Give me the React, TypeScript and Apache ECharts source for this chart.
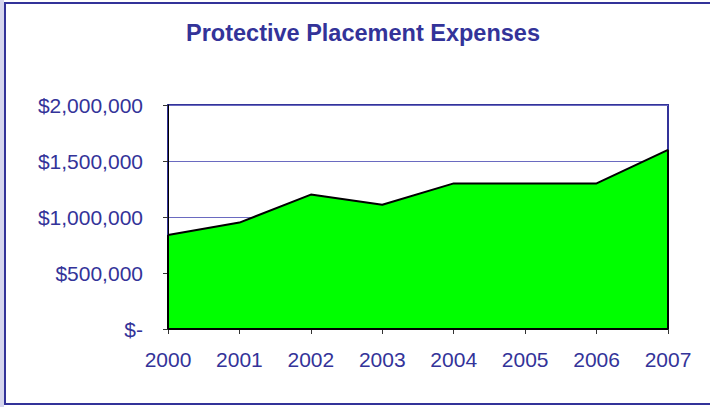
import React, { useEffect, useRef } from "react";
import * as echarts from "echarts";

const years = ["2000", "2001", "2002", "2003", "2004", "2005", "2006", "2007"];
const expenses = [840000, 950000, 1200000, 1110000, 1300000, 1300000, 1300000, 1600000];
const yTicks = [0, 500000, 1000000, 1500000, 2000000];
const titleText = "Protective Placement Expenses";

const NAVY = "#333399";
const FONT = "'Liberation Sans', Arial, sans-serif";

function fmtMoney(v: number): string {
  if (v === 0) return "$-";
  return "$" + v.toLocaleString("en-US");
}

export default function App() {
  const ref = useRef<HTMLDivElement>(null);
  useEffect(() => {
    if (!ref.current) return;
    const chart = echarts.init(ref.current, undefined, { renderer: "svg" });
    const last = years.length - 1;
    chart.setOption({
      animation: false,
      backgroundColor: "#ffffff",
      title: {
        text: titleText,
        left: 181,
        top: 16,
        textStyle: { color: NAVY, fontFamily: FONT, fontWeight: "bold", fontSize: 23.5 },
      },
      graphic: [
        { type: "rect", shape: { x: 0, y: 0, width: 4, height: 407 }, style: { fill: "#d6d6ee" }, z: 100 },
        {
          type: "rect",
          shape: { x: 5, y: 3, width: 720, height: 401 },
          style: { fill: "none", stroke: NAVY, lineWidth: 2 },
          z: 100,
        },
      ],
      grid: {
        left: 168,
        top: 105,
        right: 42,
        bottom: 78,
        show: true,
        borderColor: NAVY,
        borderWidth: 2,
        backgroundColor: "transparent",
      },
      xAxis: {
        type: "category",
        data: years,
        boundaryGap: false,
        axisLine: { show: true, lineStyle: { color: "#000000", width: 1 } },
        axisTick: { show: true, length: 5, inside: false, lineStyle: { color: "#333333" } },
        axisLabel: { color: NAVY, fontFamily: FONT, fontSize: 21, margin: 20 },
        splitLine: { show: false },
      },
      yAxis: {
        type: "value",
        min: yTicks[0],
        max: yTicks[yTicks.length - 1],
        interval: yTicks[1] - yTicks[0],
        axisLine: { show: true, lineStyle: { color: "#000000", width: 1 } },
        axisTick: { show: true, length: 5, inside: false, lineStyle: { color: "#333333" } },
        axisLabel: { color: NAVY, fontFamily: FONT, fontSize: 21, margin: 25, formatter: fmtMoney },
        splitLine: { show: true, lineStyle: { color: "#6a6ac0", width: 1 } },
      },
      series: [
        {
          type: "line",
          data: expenses,
          symbol: "none",
          lineStyle: { color: "#000000", width: 2 },
          areaStyle: { color: "#00ff00", opacity: 1 },
          markLine: {
            silent: true,
            symbol: "none",
            label: { show: false },
            lineStyle: { color: "#000000", width: 2, type: "solid" },
            data: [
              [{ coord: [years[0], 0] }, { coord: [years[last], 0] }],
              [{ coord: [years[last], 0] }, { coord: [years[last], expenses[last]] }],
              [{ coord: [years[0], 0] }, { coord: [years[0], expenses[0]] }],
            ],
          },
        },
      ],
    });
    return () => chart.dispose();
  }, []);
  return (
    <div
      ref={ref}
      style={{ position: "fixed", left: 0, top: 0, width: 710, height: 407 }}
    />
  );
}
